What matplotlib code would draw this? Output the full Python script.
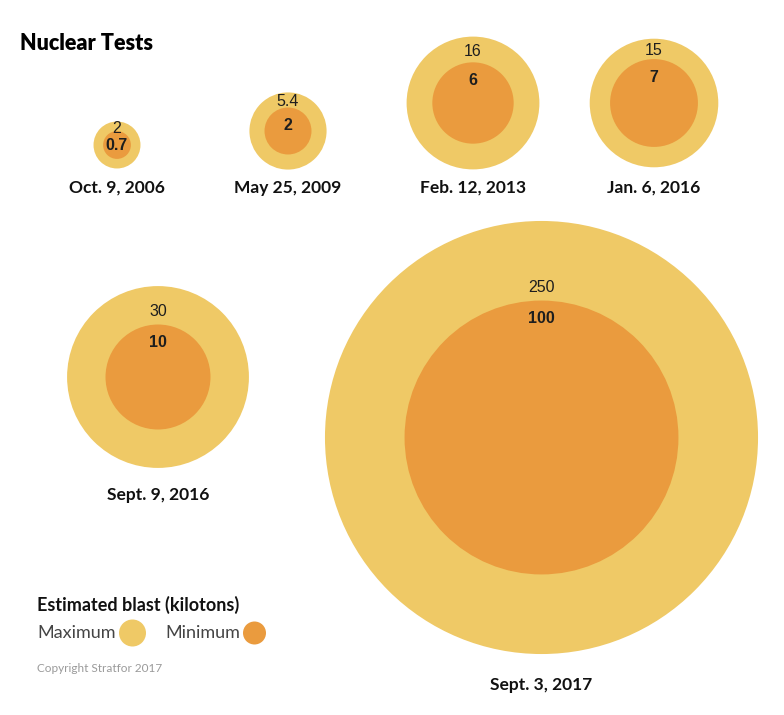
import numpy as np
import matplotlib
matplotlib.use("Agg")
import matplotlib.pyplot as plt
from matplotlib.patches import Circle

# ---- data ----
dates = ['Oct. 9, 2006', 'May 25, 2009', 'Feb. 12, 2013', 'Jan. 6, 2016',
         'Sept. 9, 2016', 'Sept. 3, 2017']
max_kt = [2, 5.4, 16, 15, 30, 250]
min_kt = [0.7, 2, 6, 7, 10, 100]

# ---- layout (pixel-like canvas) ----
centers = [(117, 145), (288, 131), (473, 103), (654, 103), (158, 377), (541.5, 437.5)]
panel_scale = [1, 1, 1, 1, 1, 0.825]   # largest panel drawn reduced to fit
date_y = [188, 188, 188, 188, 495, 685]
K = 16.6   # px per sqrt(kiloton)

MAX_C = '#EFC966'
MIN_C = '#EA9B3E'
TXT = '#1e1e1e'

fig = plt.figure(figsize=(7.84, 7.15), dpi=100)
ax = fig.add_axes([0, 0, 1, 1])
ax.set_xlim(0, 784)
ax.set_ylim(715, 0)
ax.axis('off')

num_font = ['Liberation Sans', 'DejaVu Sans']
lab_font = ['Lato', 'DejaVu Sans']

for d, mx, mn, (cx, cy), s, dy in zip(dates, max_kt, min_kt, centers, panel_scale, date_y):
    R = s * K * np.sqrt(mx)
    r = s * K * np.sqrt(mn)
    ax.add_patch(Circle((cx, cy), R, color=MAX_C, lw=0, zorder=1))
    ax.add_patch(Circle((cx, cy), r, color=MIN_C, lw=0, zorder=2))
    outer_top = cy - R
    inner_top = cy - r
    gap = inner_top - outer_top
    y_max = max(outer_top + gap / 2 + 2, inner_top - 13)
    y_min = min(inner_top + 18, cy + 1)
    ax.text(cx, y_max, f"{mx:g}", ha='center', va='center', fontsize=11.5,
            family=num_font, color=TXT, zorder=3)
    ax.text(cx, y_min, f"{mn:g}", ha='center', va='center', fontsize=11.5,
            family=num_font, fontweight='bold', color=TXT, zorder=3)
    ax.text(cx, dy, d, ha='center', va='center', fontsize=12.5,
            family=lab_font, fontweight='bold', color='#111111', zorder=3)

# title
ax.text(20, 43, 'Nuclear Tests', ha='left', va='center', fontsize=15.5,
        family=lab_font, fontweight='heavy', color='#000000')

# legend
ax.text(37, 605, 'Estimated blast (kilotons)', ha='left', va='center', fontsize=13,
        family=lab_font, fontweight='bold', color='#111111')
ax.text(37, 633, 'Maximum', ha='left', va='center', fontsize=13,
        family=lab_font, fontweight='normal', color='#444444')
ax.add_patch(Circle((132.5, 633), 13.5, color=MAX_C, lw=0))
ax.text(165, 633, 'Minimum', ha='left', va='center', fontsize=13,
        family=lab_font, fontweight='normal', color='#444444')
ax.add_patch(Circle((254.5, 633), 11.5, color=MIN_C, lw=0))
ax.text(37, 668, 'Copyright Stratfor 2017', ha='left', va='center', fontsize=8.5,
        family=lab_font, color='#9a9a9a')

fig.savefig('out.png', dpi=100)
